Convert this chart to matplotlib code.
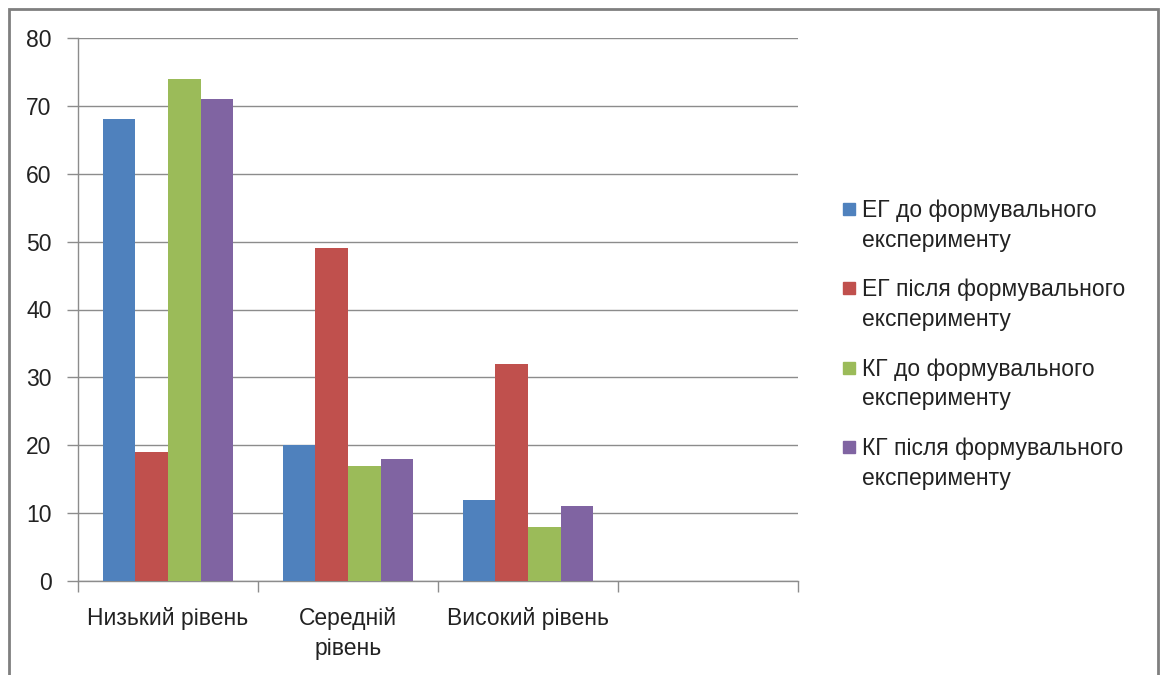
import matplotlib
matplotlib.use("Agg")
import matplotlib.pyplot as plt
from matplotlib.patches import Rectangle
import numpy as np

categories = ["Низький рівень", "Середній\nрівень", "Високий рівень", ""]
series_names = ["ЕГ до формувального\nексперименту",
                "ЕГ після формувального\nексперименту",
                "КГ до формувального\nексперименту",
                "КГ після формувального\nексперименту"]
eg_before = [68, 20, 12]
eg_after = [19, 49, 32]
kg_before = [74, 17, 8]
kg_after = [71, 18, 11]
colors = ["#4F81BD", "#C0504D", "#9BBB59", "#8064A2"]
yticks = [0, 10, 20, 30, 40, 50, 60, 70, 80]

plt.rcParams['font.family'] = ['Liberation Sans', 'DejaVu Sans']

FS = 16.5
W, H = 1168, 675
fig = plt.figure(figsize=(W / 100, H / 100), dpi=100)
ax = fig.add_axes([78 / W, 1 - 581 / H, 720 / W, 543 / H])

data = [eg_before, eg_after, kg_before, kg_after]
bw = 1 / 5.5
x = np.arange(len(eg_before))
for i, vals in enumerate(data):
    ax.bar(x - 2 * bw + (i + 0.5) * bw, vals, width=bw, color=colors[i],
           edgecolor='none', zorder=3)

ax.set_xlim(-0.5, len(categories) - 0.5)
ax.set_ylim(0, 80)
ax.set_yticks(yticks)
ax.set_yticklabels([str(v) for v in yticks], fontsize=FS, color='#222222')
ax.yaxis.grid(True, color='#8C8C8C', linewidth=1, zorder=0)
ax.tick_params(axis='y', length=8, width=1, color='#8C8C8C', pad=11)

ax.set_xticks(np.arange(len(categories) + 1) - 0.5)
ax.set_xticklabels([])
ax.tick_params(axis='x', length=8, width=1, color='#8C8C8C')
for i, c in enumerate(categories):
    ax.text(i, -3.85, c, ha='center', va='top', fontsize=FS, color='#222222',
            linespacing=1.4)

for s in ['top', 'right']:
    ax.spines[s].set_visible(False)
for s in ['left', 'bottom']:
    ax.spines[s].set_color('#8C8C8C')
    ax.spines[s].set_linewidth(1)

# legend (manual to match layout)
y0 = 209
for i, name in enumerate(series_names):
    yc = y0 + i * 79.3
    fig.patches.append(Rectangle((843 / W, 1 - (yc + 6) / H), 12 / W, 12 / H,
                                 transform=fig.transFigure, color=colors[i]))
    fig.text(862 / W, 1 - (yc - 10) / H, name, ha='left', va='top',
             fontsize=FS, color='#222222', linespacing=1.37)

# outer border
fig.patches.append(Rectangle((9 / W, -0.01), 1149 / W, 1 - 9 / H + 0.01,
                             transform=fig.transFigure, fill=False,
                             edgecolor='#7F7F7F', linewidth=2))

fig.savefig("out.png", dpi=100)
